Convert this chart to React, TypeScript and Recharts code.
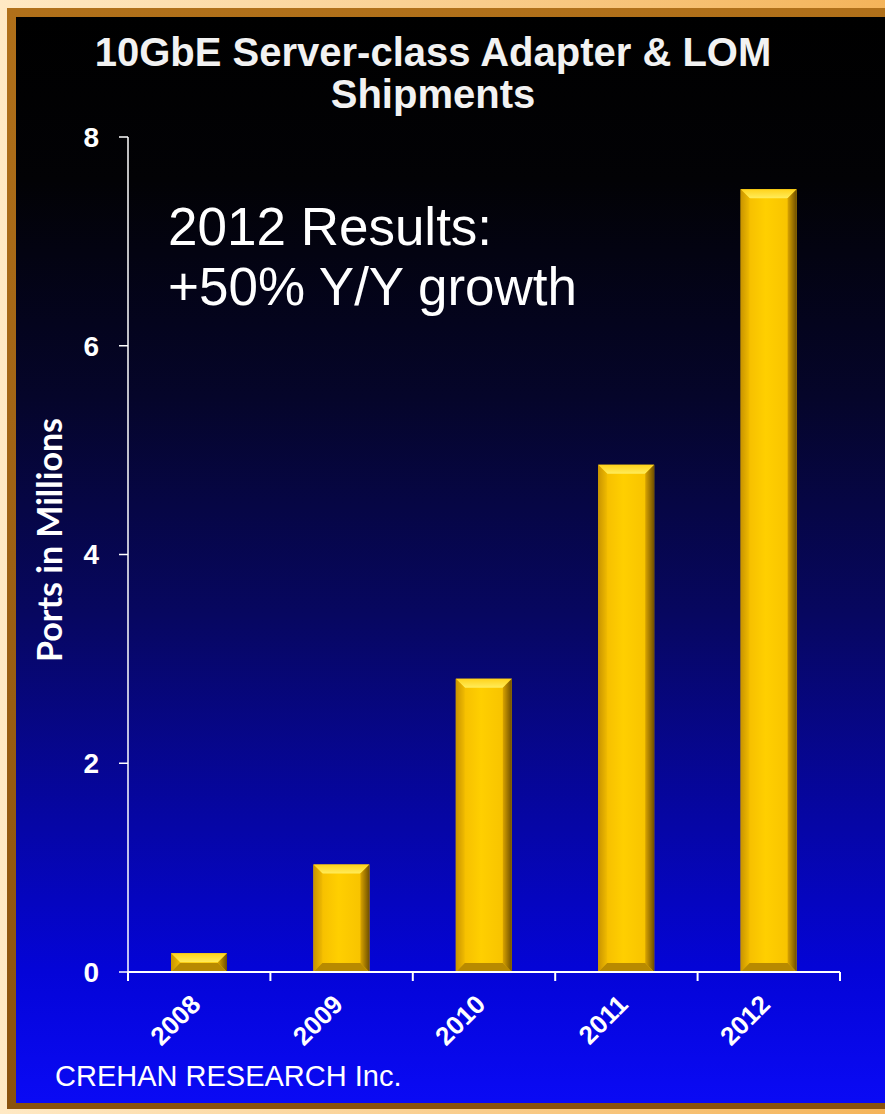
import React from 'react';
import { BarChart, Bar, XAxis, YAxis } from 'recharts';

const YEARS = ['2008', '2009', '2010', '2011', '2012'];
const PORTS_MILLIONS = [0.18, 1.03, 2.81, 4.86, 7.5];
const Y_TICKS = [0, 2, 4, 6, 8];

const data = YEARS.map((year, i) => ({ year, ports: PORTS_MILLIONS[i] }));

const ARIAL = '"Liberation Sans", Arial, sans-serif';

// gold bar with a bevelled rim
const BevelBar = (props: any) => {
  const { x, y, width, height } = props;
  if (!height || height <= 0) return null;
  const b = Math.min(9, height / 2, width / 2);
  const r = x + width;
  const btm = y + height;
  return (
    <g>
      <rect x={x} y={y} width={width} height={height} fill="url(#barBody)" />
      <polygon points={`${x},${y} ${r},${y} ${r - b},${y + b} ${x + b},${y + b}`} fill="url(#barTop)" />
      <polygon points={`${x},${y} ${x + b},${y + b} ${x + b},${btm - b} ${x},${btm}`} fill="url(#barLeft)" />
      <polygon points={`${r},${y} ${r},${btm} ${r - b},${btm - b} ${r - b},${y + b}`} fill="url(#barRight)" />
      <polygon points={`${x},${btm} ${x + b},${btm - b} ${r - b},${btm - b} ${r},${btm}`} fill="#b88a00" />
    </g>
  );
};

// year label rotated -45, plus the tick mark at the left band edge (and right edge for last)
const YearTick = (props: any) => {
  const { x, y, payload, index, visibleTicksCount } = props;
  const half = payload.offset || 0;
  const isLast = index === visibleTicksCount - 1;
  const ax = x + 3;
  const ay = y + 26;
  return (
    <g>
      <line x1={x - half} y1={y - 8} x2={x - half} y2={y + 1} stroke="#fff" strokeWidth={2} />
      {isLast && <line x1={x + half} y1={y - 8} x2={x + half} y2={y + 1} stroke="#fff" strokeWidth={2} />}
      <text
        x={ax}
        y={ay}
        textAnchor="end"
        fill="#fff"
        fontFamily={ARIAL}
        fontWeight="bold"
        fontSize={26}
        transform={`rotate(-45, ${ax}, ${ay})`}
      >
        {payload.value}
      </text>
    </g>
  );
};

export default function App() {
  return (
    <div style={{ position: 'absolute', left: 0, top: 0, width: 885, height: 1114, overflow: 'hidden', background: 'linear-gradient(90deg, #ffe9c4, #f4b45a)' }}>
      {/* brown frame */}
      <div style={{ position: 'absolute', left: 7, top: 8, right: -6, bottom: 5, background: 'linear-gradient(180deg, #b0701a, #8a520c)' }} />
      {/* plot backdrop */}
      <div
        style={{
          position: 'absolute', left: 16, top: 17, right: 0, bottom: 11,
          background: 'linear-gradient(180deg, #000000 0%, #020205 15%, #05052a 35%, #070760 55%, #0606a8 75%, #0404d8 88%, #0a0af5 100%)',
        }}
      />
      <div style={{ position: 'absolute', left: 0, top: 0 }}>
        <BarChart width={885} height={1114} data={data} margin={{ top: 137, right: 45, bottom: 0, left: 0 }} barCategoryGap={0}>
          <defs>
            <linearGradient id="barBody" x1="0" y1="0" x2="1" y2="0">
              <stop offset="0%" stopColor="#f2b800" />
              <stop offset="45%" stopColor="#ffcf00" />
              <stop offset="100%" stopColor="#f5bf00" />
            </linearGradient>
            <linearGradient id="barTop" x1="0" y1="0" x2="0" y2="1">
              <stop offset="0%" stopColor="#ffd21a" />
              <stop offset="100%" stopColor="#ffec5a" />
            </linearGradient>
            <linearGradient id="barLeft" x1="0" y1="0" x2="1" y2="0">
              <stop offset="0%" stopColor="#c99400" />
              <stop offset="100%" stopColor="#f0bb00" />
            </linearGradient>
            <linearGradient id="barRight" x1="0" y1="0" x2="1" y2="0">
              <stop offset="0%" stopColor="#d9a400" />
              <stop offset="100%" stopColor="#6e4e00" />
            </linearGradient>
          </defs>
          <XAxis
            dataKey="year"
            height={142}
            axisLine={{ stroke: '#fff', strokeWidth: 2 }}
            tickLine={false}
            tick={<YearTick />}
            interval={0}
          />
          <YAxis
            width={128}
            domain={[0, 8]}
            ticks={Y_TICKS}
            interval={0}
            axisLine={{ stroke: '#fff', strokeWidth: 1.5 }}
            tickLine={{ stroke: '#fff', strokeWidth: 1.5 }}
            tickSize={9}
            tickMargin={20}
            tick={{ fill: '#fff', fontFamily: ARIAL, fontWeight: 'bold', fontSize: 28 }}
          />
          <Bar dataKey="ports" barSize={56} shape={<BevelBar />} isAnimationActive={false} />
        </BarChart>
      </div>
      <svg width={885} height={1114} style={{ position: 'absolute', left: 0, top: 0, pointerEvents: 'none' }}>
        <text x={433} y={66} textAnchor="middle" fill="#f2f2f2" fontFamily={ARIAL} fontWeight="bold" fontSize={40}>
          10GbE Server-class Adapter &amp; LOM
        </text>
        <text x={433} y={108} textAnchor="middle" fill="#f2f2f2" fontFamily={ARIAL} fontWeight="bold" fontSize={40}>
          Shipments
        </text>
        <text x={168} y={245} fill="#fff" fontFamily={ARIAL} fontSize={53}>2012 Results:</text>
        <text x={168} y={305} fill="#fff" fontFamily={ARIAL} fontSize={53}>+50% Y/Y growth</text>
        <text
          x={62}
          y={540}
          textAnchor="middle"
          fill="#fff"
          fontFamily="Lato, 'Open Sans', sans-serif"
          fontWeight="bold"
          fontSize={34}
          transform="rotate(-90, 62, 540)"
        >
          Ports in Millions
        </text>
        <text x={55} y={1086} fill="#fff" fontFamily={ARIAL} fontSize={29}>CREHAN RESEARCH Inc.</text>
      </svg>
    </div>
  );
}
